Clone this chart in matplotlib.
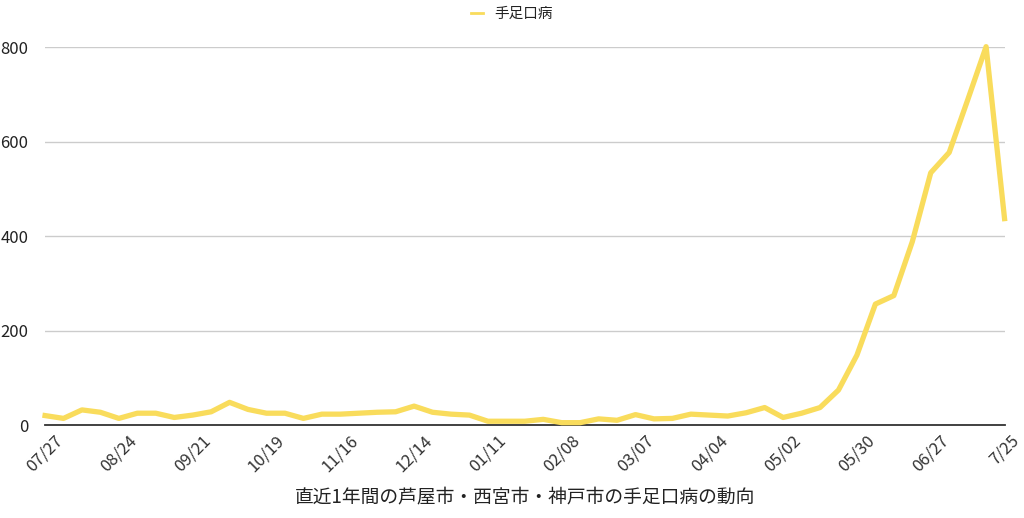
import numpy as np
import matplotlib
matplotlib.use("Agg")
import matplotlib.pyplot as plt
from matplotlib.lines import Line2D

plt.rcParams['font.family'] = ['Noto Sans CJK JP', 'DejaVu Sans']

# weekly counts, 07/27 .. 7/25 (53 weeks)
counts = [20, 14, 32, 27, 14, 25, 25, 16, 21, 28,
          48, 33, 25, 25, 14, 23, 23, 25, 27, 28,
          40, 27, 23, 21, 8, 8, 8, 12, 5, 5,
          13, 10, 22, 13, 14, 23, 21, 19, 26, 37,
          16, 25, 37, 74, 148, 256, 274, 388, 534, 577,
          688, 801, 437]
tick_labels = ['07/27', '08/24', '09/21', '10/19', '11/16', '12/14', '01/11',
               '02/08', '03/07', '04/04', '05/02', '05/30', '06/27', '7/25']
series_name = '手足口病'
title = '直近1年間の芦屋市・西宮市・神戸市の手足口病の動向'

x = np.arange(len(counts))
line_color = '#F9DC5C'

fig = plt.figure(figsize=(10.24, 5.18), dpi=100)
ax = fig.add_axes([0.044, 0.1795, 0.937, 0.7295])

ax.plot(x, counts, color=line_color, lw=3.8, clip_on=False, zorder=3)

ax.set_xlim(0, len(counts) - 1)
ax.set_ylim(0, 800)
ax.set_yticks([0, 200, 400, 600, 800])
ax.set_xticks(x[::4])
ax.set_xticklabels(tick_labels, rotation=45, ha='center', va='top',
                   fontsize=12, color='#333333')
ax.tick_params(axis='x', length=0, pad=5)
ax.tick_params(axis='y', length=0, pad=12, labelsize=12, labelcolor='#222222')
ax.grid(axis='y', color='#cccccc', lw=1)
ax.set_axisbelow(True)
for s in ['top', 'right', 'left']:
    ax.spines[s].set_visible(False)
ax.spines['bottom'].set_color('#333333')
ax.spines['bottom'].set_linewidth(1.3)

ax.set_xlabel(title, fontsize=13.5, color='#222222', labelpad=9)

proxy = Line2D([], [], color=line_color, lw=2)
fig.legend(handles=[proxy], labels=[series_name], loc='upper center',
           bbox_to_anchor=(0.5, 1.012), frameon=False, handlelength=0.8,
           handletextpad=0.8, fontsize=10.5, labelcolor='#222222')

fig.savefig('out.png', dpi=100)
